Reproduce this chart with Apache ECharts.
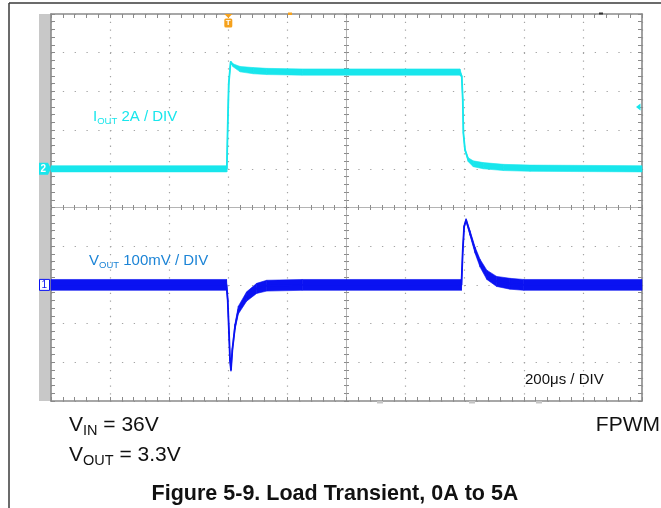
<!DOCTYPE html>
<html><head><meta charset="utf-8">
<script src="https://cdn.jsdelivr.net/npm/echarts@6/dist/echarts.min.js"></script>
<style>html,body{margin:0;padding:0;background:#fff}#c{width:661px;height:508px}</style>
</head><body><div id="c"></div>
<script>
// ---- time base: microseconds, trigger at 0, 200 us / div ----
const timeMin = -600, timeMax = 1400, timeDiv = 200;

// ---- channel 2: I_OUT (A), 2 A / div ----
const ioutTime  = [-600, -5, -2, 1.5, 8, 16, 40, 85, 130, 250, 784, 790, 793.5, 795.5, 801, 812, 829, 863, 931, 1021, 1400];
const ioutAmps  = [0, 0, 2.2, 4.4, 5.53, 5.35, 5.15, 5.07, 5.03, 5.0, 5.0, 4.77, 3.57, 1.86, 0.98, 0.47, 0.26, 0.16, 0.07, 0.03, 0];
const ioutNoise = [0.32, 0.32, 0.05, 0.05, 0.06, 0.15, 0.28, 0.32, 0.32, 0.32, 0.32, 0.1, 0.05, 0.05, 0.1, 0.2, 0.3, 0.32, 0.32, 0.32, 0.32];

// ---- channel 1: V_OUT deviation (mV), 100 mV / div ----
const voutTime  = [-600, -6, -2, 2.4, 5.8, 9, 13.7, 22.7, 34, 62, 96, 130, 250, 789, 793.5, 798, 804.6, 818, 835, 852, 875, 908, 953, 1000, 1400];
const voutMilli = [0, 0, -39, -124, -194, -220, -168, -108, -65, -30, -9, -2, 0, 0, 90, 150, 168, 134, 90, 56, 26, 9, 3, 0, 0];
const voutNoise = [28, 28, 8, 6, 6, 6, 9, 14, 20, 24, 26, 28, 28, 28, 8, 6, 6, 12, 16, 20, 24, 26, 28, 28, 28];

// vertical scales (10 divisions)
const ioutAxis = {min: -12, max: 8, interval: 2};
const voutAxis = {min: -300, max: 700, interval: 100};
const triggerLevelAmps = 3.2;

// texts
const ioutLabel = ['I', 'OUT', ' 2A / DIV'];
const voutLabel = ['V', 'OUT', ' 100mV / DIV'];
const timeLabel = '200\u03bcs / DIV';
const vinText = ['V', 'IN', ' = 36V'];
const voutText = ['V', 'OUT', ' = 3.3V'];
const modeText = 'FPWM';
const caption = 'Figure 5-9. Load Transient, 0A to 5A';

const CYAN = '#18E6EC', BLUE = '#0A12F2', LBLUE = '#1C84D6', ORANGE = '#F5A11C';
const FONT = '"Liberation Sans", Arial, Helvetica, sans-serif';
const BORDER = '#8a8a8a', GRIDC = '#a4a4a4', CENTERC = '#b4b4b4';

// noise band: one quad per segment, built through the axes with api.coord
function bandSeries(name, t, c, n, yIdx, color) {
  const segs = [];
  for (let i = 0; i < t.length - 1; i++) {
    segs.push([t[i], c[i] - n[i] / 2, c[i] + n[i] / 2, t[i + 1], c[i + 1] - n[i + 1] / 2, c[i + 1] + n[i + 1] / 2]);
  }
  return {
    type: 'custom', name: name + '-band', yAxisIndex: yIdx, silent: true, z: 3,
    encode: {x: [0, 3], y: [1, 2, 4, 5]},
    data: segs,
    renderItem: function (params, api) {
      const a = api.coord([api.value(0), api.value(1)]);
      const b = api.coord([api.value(0), api.value(2)]);
      const d = api.coord([api.value(3), api.value(5)]);
      const e = api.coord([api.value(3), api.value(4)]);
      return {type: 'polygon', shape: {points: [a, b, d, e]},
        style: {fill: color, stroke: color, lineWidth: 0.6}};
    }
  };
}
function lineSeries(name, t, c, yIdx, color) {
  return {type: 'line', name: name, data: t.map((x, i) => [x, c[i]]), yAxisIndex: yIdx,
    symbol: 'none', silent: true, z: 4, lineStyle: {width: 1.8, color: color}};
}

function borderX(pos) {
  return {type: 'value', position: pos, min: timeMin, max: timeMax, interval: timeDiv,
    axisLabel: {show: false},
    axisLine: {show: true, onZero: false, lineStyle: {color: BORDER, width: 1.6}},
    axisTick: {show: true, inside: true, length: 4, lineStyle: {color: BORDER}},
    minorTick: {show: true, splitNumber: 5, length: 4, lineStyle: {color: BORDER}},
    splitLine: {show: pos === 'bottom', lineStyle: {color: GRIDC, width: 1.2, type: [1.3, 6.44]}}};
}
function centerX(inside) {
  return {type: 'value', position: 'bottom', min: timeMin, max: timeMax, interval: timeDiv,
    axisLabel: {show: false},
    axisLine: {show: true, onZero: true, onZeroAxisIndex: 2, lineStyle: {color: CENTERC, width: 1}},
    axisTick: {show: true, inside: inside, length: 2.5, lineStyle: {color: BORDER}},
    minorTick: {show: true, splitNumber: 5, length: 2.5, lineStyle: {color: BORDER}},
    splitLine: {show: false}};
}
function centerY(inside) {
  return {type: 'value', position: 'left', min: -5, max: 5, interval: 1,
    axisLabel: {show: false},
    axisLine: {show: true, onZero: true, onZeroAxisIndex: 4, lineStyle: {color: CENTERC, width: 1}},
    axisTick: {show: true, inside: inside, length: 2.5, lineStyle: {color: BORDER}},
    minorTick: {show: true, splitNumber: 5, length: 2.5, lineStyle: {color: BORDER}},
    splitLine: {show: false}};
}

const chart = echarts.init(document.getElementById('c'));
chart.setOption({
  animation: false,
  backgroundColor: '#fff',
  grid: {left: 51, top: 14, width: 591, height: 387, show: false},
  xAxis: [
    borderX('bottom'), borderX('top'), centerX(true), centerX(false),
    {type: 'value', min: -5, max: 5, show: false}
  ],
  yAxis: [
    {type: 'value', position: 'left', min: ioutAxis.min, max: ioutAxis.max, interval: ioutAxis.interval,
     axisLabel: {show: false},
     axisLine: {show: true, onZero: false, lineStyle: {color: BORDER, width: 1.6}},
     axisTick: {show: true, inside: true, length: 4, lineStyle: {color: BORDER}},
     minorTick: {show: true, splitNumber: 5, length: 4, lineStyle: {color: BORDER}},
     splitLine: {show: true, lineStyle: {color: GRIDC, width: 1.2, type: [1.3, 10.52]}}},
    {type: 'value', position: 'right', min: voutAxis.min, max: voutAxis.max, interval: voutAxis.interval,
     axisLabel: {show: false},
     axisLine: {show: true, onZero: false, lineStyle: {color: BORDER, width: 1.6}},
     axisTick: {show: true, inside: true, length: 4, lineStyle: {color: BORDER}},
     minorTick: {show: true, splitNumber: 5, length: 4, lineStyle: {color: BORDER}},
     splitLine: {show: false}},
    {type: 'value', min: -5, max: 5, show: false},
    centerY(true), centerY(false)
  ],
  series: [
    bandSeries('IOUT', ioutTime, ioutAmps, ioutNoise, 0, CYAN),
    lineSeries('IOUT', ioutTime, ioutAmps, 0, CYAN),
    bandSeries('VOUT', voutTime, voutMilli, voutNoise, 1, BLUE),
    lineSeries('VOUT', voutTime, voutMilli, 1, BLUE)
  ]
});

// ---- annotations laid out with measured text ----
const mctx = document.createElement('canvas').getContext('2d');
function measure(t, size, weight) { mctx.font = (weight || 'normal') + ' ' + size + 'px ' + FONT; return mctx.measureText(t).width; }
function textAt(x, baseline, t, size, color, weight, align) {
  return {type: 'text', x: x, y: baseline - size * 0.35, silent: true, z: 10,
    style: {text: t, fill: color, font: (weight || 'normal') + ' ' + size + 'px ' + FONT,
      textAlign: align || 'left', textVerticalAlign: 'middle'}};
}
function subText(x, baseline, parts, main, sub, drop, color) {
  const els = []; let cx = x;
  parts.forEach((p, i) => {
    const isSub = i === 1;
    const s = isSub ? sub : main;
    els.push(textAt(cx, baseline + (isSub ? drop : 0), p, s, color));
    cx += measure(p, s);
  });
  return els;
}

const g = [];
// page frame lines
g.push({type: 'line', shape: {x1: 9, y1: 3, x2: 661, y2: 3}, style: {stroke: '#3a3a3a', lineWidth: 1.5}, silent: true});
g.push({type: 'line', shape: {x1: 9, y1: 3, x2: 9, y2: 508}, style: {stroke: '#3a3a3a', lineWidth: 1.5}, silent: true});
// gray strip left of screen
g.push({type: 'rect', shape: {x: 39, y: 14, width: 12, height: 387}, style: {fill: '#c8c8c8'}, silent: true, z: 0});

// channel ground markers (positions from the axes)
const yI0 = chart.convertToPixel({yAxisIndex: 0}, 0);
const yV0 = chart.convertToPixel({yAxisIndex: 1}, 0);
const xT0 = chart.convertToPixel({xAxisIndex: 0}, 0);
const yTrig = chart.convertToPixel({yAxisIndex: 0}, triggerLevelAmps);
g.push({type: 'polygon', shape: {points: [[39, yI0 - 6], [48, yI0 - 6], [51, yI0], [48, yI0 + 6], [39, yI0 + 6]]}, style: {fill: CYAN}, silent: true, z: 9});
g.push(textAt(40.5, yI0 + 4, '2', 10, '#fff', 'bold'));
g.push({type: 'rect', shape: {x: 39.5, y: yV0 - 5.5, width: 10, height: 11}, style: {fill: '#fff', stroke: BLUE, lineWidth: 1}, silent: true, z: 9});
g.push(textAt(41.5, yV0 + 3.5, '1', 10, BLUE));
// trigger position marker
g.push({type: 'polygon', shape: {points: [[xT0 - 4, 14], [xT0 + 4, 14], [xT0, 18]]}, style: {fill: ORANGE}, silent: true, z: 9});
g.push({type: 'rect', shape: {x: xT0 - 4, y: 18.5, width: 8, height: 9, r: 1.5}, style: {fill: ORANGE}, silent: true, z: 9});
g.push(textAt(xT0, 26, 'T', 8, '#fff', 'bold', 'center'));
// small scope-screen marks on the top and bottom borders
g.push({type: 'rect', shape: {x: 288, y: 12.5, width: 4, height: 2.5}, style: {fill: ORANGE}, silent: true, z: 9});
g.push({type: 'rect', shape: {x: 599, y: 12.5, width: 4, height: 2}, style: {fill: '#333'}, silent: true, z: 9});
[380, 472, 539].forEach(x => g.push({type: 'rect', shape: {x: x - 3, y: 401, width: 6, height: 2.5}, style: {fill: '#c4c4c4'}, silent: true, z: 9}));
// trigger level marker
g.push({type: 'polygon', shape: {points: [[636, yTrig], [640.5, yTrig - 3.5], [640.5, yTrig + 3.5]]}, style: {fill: CYAN}, silent: true, z: 9});

// in-screen labels
subText(93, 122, ioutLabel, 15, 9.5, 2.5, CYAN).forEach(e => g.push(e));
subText(89, 266.5, voutLabel, 15, 9.5, 2.5, LBLUE).forEach(e => g.push(e));
g.push(textAt(525, 385, timeLabel, 15, '#111'));

// below-screen texts
subText(69, 433, vinText, 21, 14.5, 3.5, '#111').forEach(e => g.push(e));
subText(69, 463, voutText, 21, 14.5, 3.5, '#111').forEach(e => g.push(e));
g.push(textAt(660, 433, modeText, 21, '#111', 'normal', 'right'));
g.push(textAt(335, 502, caption, 21.5, '#111', 'bold', 'center'));

chart.setOption({graphic: {elements: g}});
</script></body></html>
